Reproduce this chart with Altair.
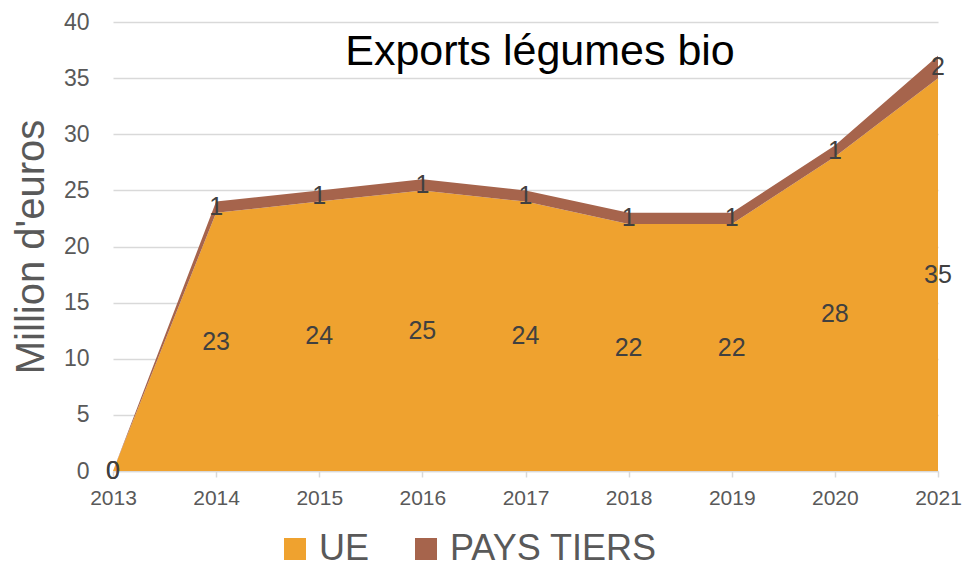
import altair as alt
import pandas as pd

years = [2013, 2014, 2015, 2016, 2017, 2018, 2019, 2020, 2021]
ue = [0, 23, 24, 25, 24, 22, 22, 28, 35]
pays_tiers = [0, 1, 1, 1, 1, 1, 1, 1, 2]
series = ["UE", "PAYS TIERS"]
colors = ["#EFA22F", "#A6644C"]

rows = []
for y, a, b in zip(years, ue, pays_tiers):
    rows.append({"year": y, "serie": "UE", "value": a, "ord": 0, "mid": a / 2})
    rows.append({"year": y, "serie": "PAYS TIERS", "value": b, "ord": 1, "mid": a + b / 2})
df = pd.DataFrame(rows)

x = alt.X("year:Q", scale=alt.Scale(domain=[2013, 2021], nice=False, zero=False),
          axis=alt.Axis(values=years, format="d", title=None, grid=False,
                        labelFontSize=21, labelColor="#595959", labelFont="Liberation Sans",
                        labelPadding=10, domainColor="#d9d9d9", domainWidth=1.5,
                        tickColor="#d9d9d9", tickSize=6, tickWidth=1.5,
                        labelFlush=False))

area = alt.Chart(df).mark_area(opacity=1).encode(
    x=x,
    y=alt.Y("value:Q", stack="zero",
            scale=alt.Scale(domain=[0, 40], nice=False),
            axis=alt.Axis(values=list(range(0, 41, 5)), title="Million d'euros",
                          titleFontSize=40, titleFont="Liberation Sans", titleFontWeight="normal",
                          titleColor="#595959", titlePadding=12,
                          labelFontSize=23, labelColor="#595959", labelFont="Liberation Sans",
                          labelPadding=24, domain=False, ticks=False,
                          gridColor="#d9d9d9", gridWidth=1.5)),
    color=alt.Color("serie:N", scale=alt.Scale(domain=series, range=colors),
                    legend=alt.Legend(title=None, orient="none", direction="horizontal",
                                      legendX=164, legendY=509,
                                      symbolType="square", symbolSize=484,
                                      symbolStrokeWidth=0, symbolOpacity=1,
                                      labelFontSize=36, labelFont="Liberation Sans",
                                      labelColor="#595959", columnPadding=38,
                                      labelOffset=6, labelLimit=500, padding=0)),
    order=alt.Order("ord:Q"),
)

labels = alt.Chart(df).mark_text(fontSize=25, font="Liberation Sans", color="#404040").encode(
    x=alt.X("year:Q"),
    y=alt.Y("mid:Q"),
    text=alt.Text("value:Q"),
)

title = alt.Chart(pd.DataFrame({"t": ["Exports légumes bio"]})).mark_text(
    fontSize=43, font="Liberation Sans", color="#000000", baseline="middle", align="center"
).encode(x=alt.value(427), y=alt.value(30), text="t:N")

chart = alt.layer(area, labels, title).properties(
    width=825, height=449,
    autosize=alt.AutoSizeParams(type="none"),
    padding={"left": 105, "top": 14, "right": 24, "bottom": 98},
).configure_view(stroke=None)

chart.save("out.html", embed_options={"renderer": "svg", "actions": False})
